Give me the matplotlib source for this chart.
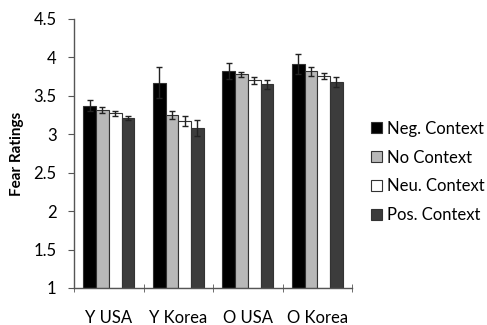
import matplotlib
matplotlib.use("Agg")
import matplotlib.pyplot as plt
import numpy as np

plt.rcParams['font.family'] = ['Lato', 'DejaVu Sans']

categories = ["Y USA", "Y Korea", "O USA", "O Korea"]
series = ["Neg. Context", "No Context", "Neu. Context", "Pos. Context"]
neg = [3.37, 3.67, 3.82, 3.91]
no_ctx = [3.31, 3.25, 3.78, 3.82]
neu = [3.27, 3.17, 3.70, 3.76]
pos = [3.21, 3.08, 3.65, 3.68]
neg_err = [0.07, 0.20, 0.10, 0.13]
no_err = [0.04, 0.05, 0.03, 0.06]
neu_err = [0.03, 0.06, 0.05, 0.04]
pos_err = [0.03, 0.10, 0.06, 0.06]
yticks = [1, 1.5, 2, 2.5, 3, 3.5, 4, 4.5]
ytick_labels = ["1", "1.5", "2", "2.5", "3", "3.5", "4", "4.5"]

colors = ["#000000", "#b8b8b8", "#ffffff", "#3c3c3c"]
values = [neg, no_ctx, neu, pos]
errs = [neg_err, no_err, neu_err, pos_err]

fig = plt.figure(figsize=(4.87, 3.25), dpi=100)
ax = fig.add_axes([0.152, 0.114, 0.571, 0.828])

x = np.arange(len(categories))
w = 0.183
for i, (vals, err, c, name) in enumerate(zip(values, errs, colors, series)):
    off = (i - 1.5) * w
    ax.bar(x + off, np.array(vals) - 1, w, bottom=1, color=c, edgecolor="#333333",
           linewidth=0.8, label=name, zorder=2)
    ax.errorbar(x + off, vals, yerr=err, fmt="none", ecolor="#222222",
                elinewidth=1.0, capsize=2.5, capthick=1.0, zorder=3)

ax.set_xlim(-0.5, 3.5)
ax.set_ylim(1, 4.5)
ax.set_yticks(yticks)
ax.set_yticklabels(ytick_labels, fontsize=12)
ax.set_xticks(x)
ax.set_xticklabels(categories, fontsize=12)
ax.tick_params(axis="x", length=0, pad=16)
ax.set_xticks([-0.5, 0.5, 1.5, 2.5, 3.5], minor=True)
ax.tick_params(axis="x", which="minor", length=6, direction="inout", color="#555555")
ax.tick_params(axis="y", length=4.5, direction="out", color="#555555", pad=8)
for s in ["top", "right"]:
    ax.spines[s].set_visible(False)
for s in ["left", "bottom"]:
    ax.spines[s].set_color("#555555")
    ax.spines[s].set_linewidth(1.0)
ax.set_ylabel("Fear Ratings", fontsize=11, fontweight="bold", labelpad=7)

leg = ax.legend(loc="center left", bbox_to_anchor=(0.731, 0.471), bbox_transform=fig.transFigure,
                frameon=False, fontsize=12, handlelength=0.65, handleheight=0.65,
                handletextpad=0.3, labelspacing=0.77)
fig.savefig("out.png", dpi=100)
